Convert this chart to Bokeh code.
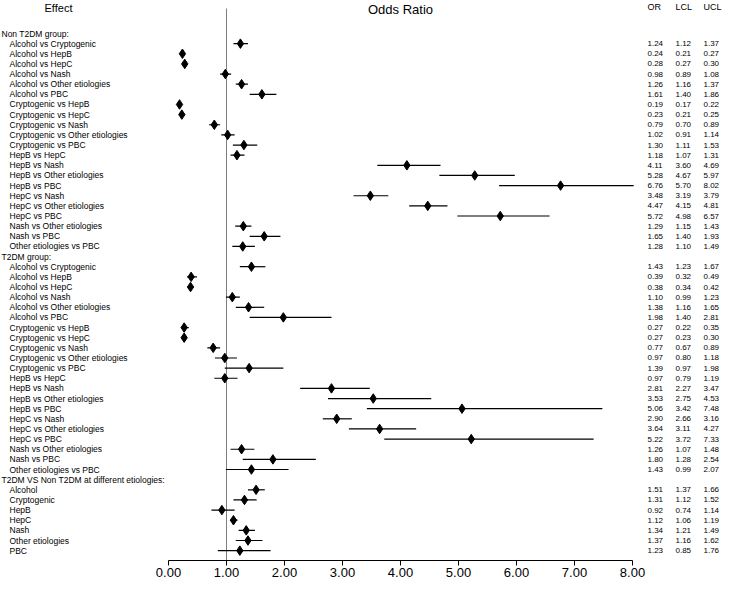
from bokeh.plotting import figure
from bokeh.models import Range1d, LinearAxis, FixedTicker, NumeralTickFormatter, ColumnDataSource
from bokeh.core.properties import value
from bokeh.embed import file_html
from bokeh.resources import INLINE

# ---------------- data ----------------
pair_labels = ["Alcohol vs Cryptogenic", "Alcohol vs HepB", "Alcohol vs HepC", "Alcohol vs Nash",
               "Alcohol vs Other etiologies", "Alcohol vs PBC", "Cryptogenic vs HepB", "Cryptogenic vs HepC",
               "Cryptogenic vs Nash", "Cryptogenic vs Other etiologies", "Cryptogenic vs PBC", "HepB vs HepC",
               "HepB vs Nash", "HepB vs Other etiologies", "HepB vs PBC", "HepC vs Nash",
               "HepC vs Other etiologies", "HepC vs PBC", "Nash vs Other etiologies", "Nash vs PBC",
               "Other etiologies vs PBC"]

non_t2dm_or = [1.24, 0.24, 0.28, 0.98, 1.26, 1.61, 0.19, 0.23, 0.79, 1.02, 1.30, 1.18, 4.11, 5.28, 6.76,
               3.48, 4.47, 5.72, 1.29, 1.65, 1.28]
non_t2dm_lcl = [1.12, 0.21, 0.27, 0.89, 1.16, 1.40, 0.17, 0.21, 0.70, 0.91, 1.11, 1.07, 3.60, 4.67, 5.70,
                3.19, 4.15, 4.98, 1.15, 1.40, 1.10]
non_t2dm_ucl = [1.37, 0.27, 0.30, 1.08, 1.37, 1.86, 0.22, 0.25, 0.89, 1.14, 1.53, 1.31, 4.69, 5.97, 8.02,
                3.79, 4.81, 6.57, 1.43, 1.93, 1.49]

t2dm_or = [1.43, 0.39, 0.38, 1.10, 1.38, 1.98, 0.27, 0.27, 0.77, 0.97, 1.39, 0.97, 2.81, 3.53, 5.06,
           2.90, 3.64, 5.22, 1.26, 1.80, 1.43]
t2dm_lcl = [1.23, 0.32, 0.34, 0.99, 1.16, 1.40, 0.22, 0.23, 0.67, 0.80, 0.97, 0.79, 2.27, 2.75, 3.42,
            2.66, 3.11, 3.72, 1.07, 1.28, 0.99]
t2dm_ucl = [1.67, 0.49, 0.42, 1.23, 1.65, 2.81, 0.35, 0.30, 0.89, 1.18, 1.98, 1.19, 3.47, 4.53, 7.48,
            3.16, 4.27, 7.33, 1.48, 2.54, 2.07]

etiology_labels = ["Alcohol", "Cryptogenic", "HepB", "HepC", "Nash", "Other etiologies", "PBC"]
etiology_or = [1.51, 1.31, 0.92, 1.12, 1.34, 1.37, 1.23]
etiology_lcl = [1.37, 1.12, 0.74, 1.06, 1.21, 1.16, 0.85]
etiology_ucl = [1.66, 1.52, 1.14, 1.19, 1.49, 1.62, 1.76]

group_titles = ["Non T2DM group:", "T2DM group:", "T2DM VS Non T2DM at different etiologies:"]
column_titles = ["OR", "LCL", "UCL"]
tick_values = [0, 1, 2, 3, 4, 5, 6, 7, 8]
reference_value = 1.0

# ---------------- layout helpers (page pixels -> data) ----------------
PX0, PX8 = 176.0, 640.0           # page x of value 0 and value 8
PXU = (PX8 - PX0) / 8.0
ROW0, ROWH = 41.0, 10.14          # page y of first row, row height
AXIS_Y = 568.0                    # page y of x-axis line
def X(px):
    return (px - PX0) / PXU
def Y(py):
    return (py - ROW0) / ROWH

FONT = value("Liberation Sans")

rows_lbl, rows_y, rows_or, rows_l, rows_u = [], [], [], [], []
head_lbl, head_y = [], []
sections = [(pair_labels, non_t2dm_or, non_t2dm_lcl, non_t2dm_ucl),
            (pair_labels, t2dm_or, t2dm_lcl, t2dm_ucl),
            (etiology_labels, etiology_or, etiology_lcl, etiology_ucl)]
i = 0
for title, (labs, o, l, u) in zip(group_titles, sections):
    head_lbl.append(title)
    head_y.append(i)
    i += 1
    for k in range(len(labs)):
        rows_lbl.append(labs[k]); rows_y.append(i)
        rows_or.append(o[k]); rows_l.append(l[k]); rows_u.append(u[k])
        i += 1

src = ColumnDataSource(dict(
    label=rows_lbl, y=rows_y, orv=rows_or, lcl=rows_l, ucl=rows_u,
    or_txt=["%.2f" % v for v in rows_or],
    lcl_txt=["%.2f" % v for v in rows_l],
    ucl_txt=["%.2f" % v for v in rows_u],
))

p = figure(frame_width=729, frame_height=int(AXIS_Y - 8), min_border=0,
           x_range=Range1d(X(8), X(737)), y_range=Range1d(Y(AXIS_Y), Y(8)),
           x_axis_type=None, y_axis_type=None, toolbar_location=None,
           output_backend="svg", outline_line_color=None)
p.grid.visible = False

# reference line at OR = 1
p.segment(x0=[reference_value], y0=[Y(16)], x1=[reference_value], y1=[Y(AXIS_Y)],
          line_color="#7f7f7f", line_width=1)

# confidence intervals and point estimates
p.segment(x0="lcl", y0="y", x1="ucl", y1="y", source=src, line_color="black", line_width=1.2)
p.scatter(x="orv", y="y", source=src, marker="diamond", size=9.5,
          fill_color="black", line_color="black")

# row labels
p.text(x=X(17), y="y", text="label", source=src, text_font=FONT, text_font_size="8.5px",
       text_baseline="middle", text_align="left", text_color="black")
p.text(x=X(9), y=head_y, text=head_lbl, text_font=FONT, text_font_size="8.5px",
       text_baseline="middle", text_align="left", text_color="black")

# number columns
COLS_PX = [655, 683, 711]
for col, px in zip(["or_txt", "lcl_txt", "ucl_txt"], COLS_PX):
    p.text(x=X(px), y="y", text=col, source=src, text_font=FONT, text_font_size="8px",
           text_baseline="middle", text_align="left", text_color="black")

# headers
p.text(x=[X(66)], y=[Y(9)], text=["Effect"], text_font=FONT, text_font_size="11px",
       text_baseline="top", text_align="center", text_color="black")
p.text(x=[(tick_values[0] + tick_values[-1]) / 2], y=[Y(9)], text=["Odds Ratio"], text_font=FONT,
       text_font_size="13px", text_baseline="top", text_align="center", text_color="black")
p.text(x=[X(px) for px in COLS_PX], y=[Y(9)] * 3, text=column_titles, text_font=FONT,
       text_font_size="9px", text_baseline="top", text_align="left", text_color="black")

# x axis
ax = LinearAxis(bounds=(tick_values[0], tick_values[-1]),
                ticker=FixedTicker(ticks=tick_values),
                formatter=NumeralTickFormatter(format="0.00"))
ax.axis_line_color = "black"
ax.major_tick_line_color = "black"
ax.major_tick_out = 5
ax.major_tick_in = 0
ax.minor_tick_line_color = None
ax.major_label_text_font = "Liberation Sans"
ax.major_label_text_font_size = "13px"
ax.major_label_text_color = "black"
ax.major_label_standoff = 2
p.add_layout(ax, "below")

open("out.html", "w").write(file_html(p, INLINE))
